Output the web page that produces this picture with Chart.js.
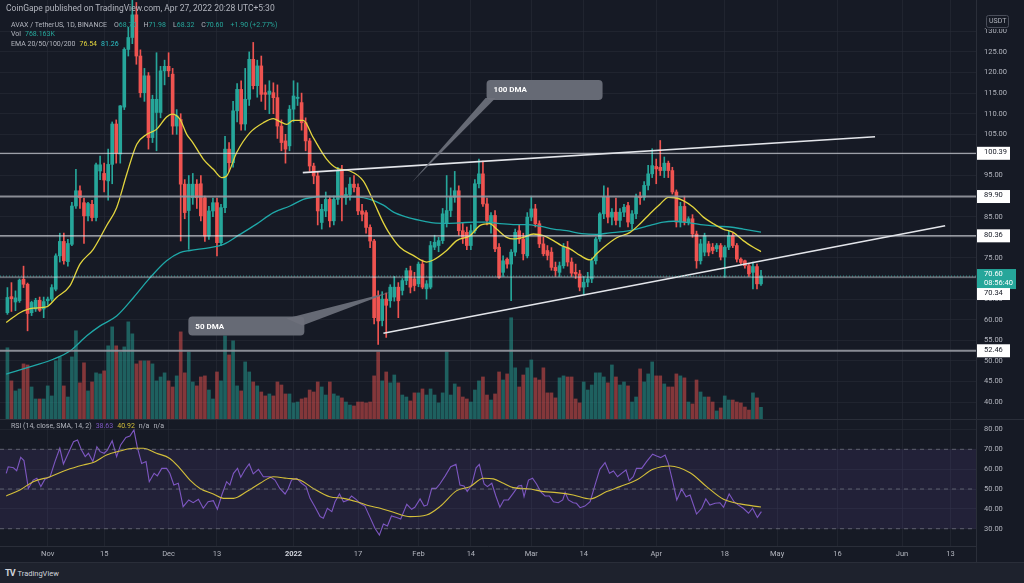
<!DOCTYPE html>
<html>
<head>
<meta charset="utf-8">
<script src="https://cdn.jsdelivr.net/npm/chart.js@4.4.0/dist/chart.umd.min.js"></script>
<style>
  html, body { margin: 0; padding: 0; background: #161a25; }
  #wrap { position: relative; width: 1024px; height: 583px; background: #161a25; overflow: hidden; font-family: Roboto, 'Liberation Sans', sans-serif; }
  canvas { position: absolute; left: 0; }
  #price { top: 0; }
  #rsi { top: 420px; }
  .txt { position: absolute; white-space: nowrap; color: #b2b5be; line-height: 10px; }
  .pub { left: 6px; top: 3px; font-size: 8.5px; }
  .leg { left: 11px; font-size: 7px; }
  .leg span { margin-left: 4px; }
  .leg.ohlc span { margin-left: 7px; }
  .up { color: #26a69a; }
  .sep { position: absolute; left: 0; width: 1024px; height: 1px; background: #2a2e39; }
  .vsep { position: absolute; left: 976px; width: 1px; background: #2a2e39; }
  #foot { position: absolute; left: 0; top: 563px; width: 1024px; height: 20px; background: #1e222d; }
  #foot .logo { position: absolute; left: 5px; top: 4px; color: #d1d4dc; font-size: 7.5px; line-height: 12px; }
  #foot .logo b { font-size: 9px; letter-spacing: -1px; margin-right: 3px; }
</style>
</head>
<body>
<div id="wrap">
  <canvas id="price" width="1024" height="419"></canvas>
  <div class="sep" style="top:419px"></div>
  <canvas id="rsi" width="1024" height="143"></canvas>
  <div class="sep" style="top:562px"></div>
  <div class="vsep" style="top:546px;height:17px"></div>

  <div class="txt pub">CoinGape published on TradingView.com, Apr 27, 2022 20:28 UTC+5:30</div>
  <div class="txt leg ohlc" style="top:20px">AVAX / TetherUS, 1D, BINANCE<span>O<i class="up" style="font-style:normal">68.70</i></span><span>H<i class="up" style="font-style:normal">71.98</i></span><span>L<i class="up" style="font-style:normal">68.32</i></span><span>C<i class="up" style="font-style:normal">70.60</i></span><span class="up">+1.90 (+2.77%)</span></div>
  <div class="txt leg" style="top:29px">Vol<span class="up">768.163K</span></div>
  <div class="txt leg" style="top:39px">EMA 20/50/100/200<span style="color:#e3d53e">76.54</span><span style="color:#2cc3c9">81.26</span></div>
  <div class="txt leg" style="top:421px">RSI (14, close, SMA, 14, 2)<span style="color:#7e57c2">38.63</span><span style="color:#d4bf3a">40.92</span><span>n/a</span><span>n/a</span></div>

  <div id="foot"><div class="logo"><b>TV</b>TradingView</div></div>
</div>

<script>
// AVAX / USDT daily, 2021-10-22 .. 2022-04-27
const FIRST_CANDLE = '2021-10-22'

const open = [
  61.7, 65.6, 64.3, 64.6, 69.8, 68.6, 61.7, 62.6, 64.7, 62.6,
  64.6, 65.0, 67.4, 75.5, 79.0, 74.1, 78.3, 87.6, 91.3, 88.4,
  85.2, 88.0, 84.8, 96.1, 95.5, 93.7, 97.7, 107.5, 100.2, 111.6,
  125.6, 128.5, 134.0, 124.0, 115.1, 119.2, 104.2, 110.3, 110.3, 120.4,
  121.5, 119.6, 107.0, 108.6, 92.9, 86.5, 89.6, 92.9, 93.0, 89.6,
  80.3, 86.4, 88.4, 78.7, 87.2, 101.4, 98.1, 110.7, 115.9, 107.5,
  113.5, 123.2, 116.8, 121.6, 115.1, 114.7, 115.1, 113.9, 107.0, 103.4,
  102.2, 111.1, 113.7, 112.7, 107.8, 103.4, 97.3, 94.9, 83.6, 86.4,
  89.2, 84.0, 89.2, 96.1, 89.6, 90.4, 92.9, 92.1, 86.4, 86.0,
  82.4, 79.1, 65.8, 59.8, 65.0, 64.6, 65.5, 67.9, 67.1, 69.5,
  71.9, 69.9, 68.7, 73.5, 67.5, 67.9, 77.6, 78.0, 79.2, 83.3,
  86.5, 89.7, 91.3, 81.6, 81.2, 78.0, 81.6, 93.0, 95.4, 88.1,
  83.3, 85.3, 77.6, 71.5, 74.7, 73.5, 76.4, 81.6, 79.6, 75.5,
  84.9, 86.9, 83.3, 78.4, 76.8, 76.4, 72.7, 71.5, 73.1, 77.6,
  74.0, 71.5, 71.1, 67.9, 69.1, 69.9, 74.3, 79.6, 85.7, 89.7,
  84.9, 86.1, 84.1, 86.1, 87.7, 83.3, 85.7, 89.9, 89.7, 92.6,
  95.4, 97.2, 97.0, 96.2, 98.0, 96.2, 91.0, 83.7, 87.5, 83.7,
  84.5, 80.8, 74.3, 76.4, 78.4, 77.6, 77.2, 78.0, 75.2, 77.6,
  80.4, 78.0, 74.7, 74.3, 73.1, 71.5, 72.9, 68.7
]
const high = [
  67.8, 69.0, 67.0, 69.9, 73.0, 68.9, 64.5, 65.2, 65.5, 65.5,
  65.5, 68.5, 76.0, 81.0, 81.0, 79.5, 88.5, 96.5, 92.5, 89.5,
  88.5, 89.0, 98.0, 99.7, 98.0, 101.4, 108.0, 108.5, 112.0, 126.0,
  131.0, 146.0, 137.0, 125.5, 121.0, 120.0, 114.5, 124.8, 121.5, 123.0,
  124.8, 121.0, 111.0, 110.0, 94.0, 95.0, 95.5, 94.0, 95.0, 90.0,
  87.5, 89.5, 89.5, 88.0, 104.5, 103.0, 113.0, 117.3, 118.0, 121.0,
  125.0, 127.3, 123.0, 124.0, 117.0, 118.0, 117.5, 117.0, 108.5, 105.0,
  112.0, 118.0, 117.5, 115.0, 109.0, 104.0, 98.0, 96.0, 88.0, 91.0,
  90.0, 90.0, 97.0, 97.5, 92.0, 94.5, 95.0, 93.0, 88.0, 86.5,
  83.0, 79.5, 67.0, 66.8, 66.5, 68.5, 70.5, 69.0, 70.0, 72.5,
  73.0, 71.5, 74.0, 74.5, 69.5, 79.0, 80.5, 80.0, 87.0, 95.0,
  92.0, 96.0, 92.5, 83.5, 82.5, 83.0, 94.0, 99.0, 98.5, 89.5,
  86.0, 86.5, 78.5, 75.5, 75.0, 77.0, 82.0, 83.0, 81.0, 86.0,
  90.0, 88.0, 84.0, 80.0, 78.0, 77.5, 74.0, 74.0, 78.5, 79.0,
  75.0, 73.5, 72.0, 70.5, 71.5, 75.0, 80.0, 86.0, 92.5, 92.0,
  87.0, 89.5, 87.0, 88.0, 88.5, 86.5, 90.5, 91.0, 93.5, 97.5,
  101.5, 99.0, 103.5, 99.5, 98.5, 97.0, 91.5, 88.5, 90.0, 85.0,
  85.5, 81.5, 79.5, 81.0, 79.0, 78.5, 78.5, 78.5, 78.0, 81.5,
  81.0, 78.5, 75.0, 74.5, 73.5, 74.0, 73.5, 71.98
]
const low = [
  61.3, 62.0, 62.2, 64.2, 67.8, 57.3, 61.0, 62.0, 62.0, 60.5,
  63.5, 64.5, 67.0, 74.0, 73.5, 73.0, 78.0, 87.0, 87.0, 78.5,
  84.0, 84.0, 84.0, 94.0, 91.0, 89.0, 93.0, 98.0, 98.0, 111.0,
  124.0, 127.0, 122.0, 114.0, 113.0, 101.4, 103.0, 101.0, 109.0, 117.0,
  119.0, 105.0, 105.0, 79.1, 84.5, 77.1, 88.0, 87.0, 84.0, 79.0,
  79.5, 85.0, 75.5, 78.0, 86.0, 96.0, 97.0, 108.0, 106.0, 106.0,
  112.0, 116.0, 114.0, 113.0, 111.0, 110.0, 110.0, 104.0, 101.0, 98.0,
  101.0, 108.0, 112.0, 106.0, 101.0, 96.0, 93.0, 83.0, 82.0, 85.0,
  82.5, 83.0, 88.0, 84.0, 88.0, 89.0, 91.0, 85.5, 84.0, 81.0,
  77.5, 59.0, 54.0, 58.5, 55.7, 63.0, 64.5, 60.5, 66.0, 68.5,
  66.5, 67.0, 68.0, 67.5, 65.0, 67.5, 77.0, 76.5, 78.5, 82.5,
  85.0, 88.5, 80.5, 78.5, 77.0, 77.0, 81.0, 92.0, 87.5, 83.0,
  81.0, 76.5, 70.0, 70.5, 72.5, 64.6, 75.5, 78.5, 74.5, 75.0,
  84.0, 82.5, 77.5, 75.5, 74.5, 72.0, 70.5, 70.5, 72.5, 73.0,
  70.5, 70.0, 67.0, 66.0, 68.0, 69.0, 73.5, 79.0, 84.5, 83.5,
  83.0, 83.0, 82.5, 85.0, 82.5, 82.0, 84.5, 88.0, 89.0, 91.5,
  94.5, 93.0, 95.0, 94.5, 94.5, 90.5, 82.5, 82.5, 83.0, 83.0,
  80.0, 72.5, 73.5, 75.5, 75.5, 76.0, 76.5, 74.5, 70.3, 77.0,
  77.5, 74.0, 73.5, 72.5, 70.5, 67.5, 67.5, 68.32
]
const close = [
  65.4, 65.1, 65.3, 69.6, 68.6, 61.5, 64.2, 64.7, 62.3, 64.4,
  65.0, 67.8, 75.5, 79.0, 74.3, 78.5, 87.6, 91.3, 89.6, 85.2,
  88.2, 84.8, 97.6, 97.6, 93.9, 97.7, 107.5, 100.4, 111.9, 125.6,
  128.5, 134.0, 124.0, 115.1, 119.2, 104.2, 113.5, 113.5, 120.4, 121.5,
  120.4, 107.0, 109.5, 92.9, 86.0, 92.9, 92.9, 89.6, 85.2, 80.3,
  86.4, 88.4, 78.7, 87.2, 101.4, 98.1, 110.7, 115.9, 107.5, 113.5,
  123.2, 116.8, 121.6, 114.7, 114.7, 115.5, 113.9, 107.0, 103.0, 101.4,
  111.1, 114.3, 114.0, 107.8, 103.4, 97.3, 94.9, 86.4, 86.8, 89.2,
  84.0, 89.2, 96.1, 89.6, 90.4, 92.9, 92.1, 86.4, 85.6, 82.4,
  79.1, 60.5, 59.7, 65.0, 63.5, 67.9, 67.9, 64.6, 69.5, 71.9,
  67.9, 68.3, 73.5, 67.9, 68.7, 78.0, 78.8, 79.2, 85.7, 86.5,
  89.7, 91.3, 81.6, 80.0, 78.0, 81.6, 93.0, 95.4, 88.1, 84.1,
  85.3, 77.2, 70.3, 74.3, 73.5, 76.4, 81.2, 79.6, 76.0, 84.9,
  86.9, 83.3, 78.4, 76.0, 75.6, 72.7, 71.9, 73.1, 77.6, 74.0,
  71.3, 71.1, 67.9, 69.1, 69.9, 74.3, 79.6, 85.7, 89.7, 84.9,
  86.1, 84.1, 86.1, 87.3, 83.7, 85.7, 89.7, 89.6, 92.6, 95.4,
  97.4, 96.6, 96.2, 98.0, 96.2, 91.0, 83.7, 87.5, 83.7, 84.5,
  80.8, 74.3, 78.4, 80.4, 76.4, 76.8, 78.0, 75.2, 77.6, 80.4,
  78.0, 74.7, 73.9, 73.1, 71.1, 72.9, 68.7, 70.6
]
// volume in thousands of AVAX
const volume = [
  4690, 2510, 1850, 1980, 3630, 3560, 2110, 1320, 1320, 1320,
  2180, 1520, 3830, 4090, 2180, 1450, 4090, 5810, 2380, 3700,
  1850, 2440, 3040, 2970, 3170, 4820, 6070, 4820, 4420, 4750,
  6400, 5610, 3630, 3830, 3830, 3830, 3630, 2510, 2770, 3040,
  2510, 2110, 2840, 5740, 3040, 4420, 2440, 2180, 2770, 2840,
  1910, 1320, 3100, 2510, 5480, 4220, 5150, 2180, 1850, 3760,
  3100, 2440, 2180, 1780, 1520, 1650, 1520, 2440, 2240, 1650,
  1650, 1060, 1120, 1320, 1390, 1910, 1780, 2440, 2110, 1580,
  2440, 1650, 1520, 1390, 1120, 920, 860, 1120, 1120, 1060,
  1120, 2840, 4420, 2510, 3100, 2380, 2900, 2380, 1580, 1450,
  1190, 1720, 1720, 1980, 1580, 1980, 1580, 1060, 1720, 4420,
  1580, 2310, 2110, 1450, 1320, 1120, 1910, 2510, 2770, 1580,
  1250, 1650, 3100, 2570, 2970, 6670, 3370, 2110, 2900, 3370,
  3890, 2710, 2570, 3370, 1720, 1720, 1390, 2710, 2840, 2770,
  2770, 1320, 1060, 2440, 1910, 2240, 3040, 3040, 2770, 2380,
  3560, 2770, 2240, 2440, 2180, 1120, 1450, 3300, 2440, 2970,
  3760, 2840, 2840, 2310, 2110, 2110, 2970, 2840, 2710, 1120,
  990, 2570, 1780, 1450, 1450, 1120, 530, 730, 1520, 1250,
  1250, 1120, 1060, 790, 590, 1720, 1390, 768
]

// indicator lines (x = days since 2021-11-01)
const ema20Days = [-10.3, -6.9, -3.6, -0.3, 2.2, 5.5, 8, 11.3, 14.6, 17.1, 19.6, 22.1, 24.6, 27, 29.5, 30.8, 32.8, 34.5, 36, 38.6, 41.1, 43.2, 44.4, 46.9, 50.2, 53.5, 56, 57.6, 59.3, 60.9, 63.4, 65.9, 69.2, 71.7, 75, 78.3, 80.8, 83.3, 84.5, 87.4, 90.7, 94, 95.7, 99, 101.5, 104.8, 107.3, 109.7, 111.4, 113.9, 115.5, 118, 120.5, 123, 125.5, 127.5, 129.6, 132.1, 134.6, 136.2, 138, 141.2, 144.5, 147, 149.5, 152, 154, 155.7, 157.7, 160.2, 162.7, 165.2, 167.6, 170.1, 172.6, 175.1, 177]
const ema20 = [59.3, 61.7, 62.8, 63.1, 65.4, 68.2, 73.5, 77.1, 82.8, 87.2, 95.3, 102.6, 105, 106.2, 109.2, 109.9, 108.7, 105, 103, 99, 96.5, 94.5, 94.9, 100.6, 105.4, 107.8, 108.8, 108.1, 107.4, 108.4, 108.4, 104.2, 99, 96.8, 96.1, 93.7, 88.8, 83.5, 81.4, 77.6, 75.6, 74, 74.5, 76.8, 79.2, 80.4, 82.9, 83.3, 82, 80, 79.6, 80, 80.8, 80.4, 79.2, 78, 77.2, 75.6, 74.5, 76, 77.6, 79.9, 81.2, 83.3, 85.8, 88.1, 89.7, 89.6, 88.9, 87.3, 84.9, 83.3, 82, 81.2, 79.2, 77.6, 76.54]
const ema50Days = [-10.3, -3.6, 1.4, 5.5, 9.7, 13, 17.1, 21.3, 25.4, 29.5, 32.8, 35.3, 40.3, 43.6, 47.7, 51.8, 56, 60.1, 63.4, 65.1, 68.4, 72.5, 76.7, 80, 83.3, 85.8, 89.1, 92.4, 95.7, 99, 102.3, 105.6, 108.9, 112.2, 115.5, 118.8, 122.1, 125.5, 128.8, 132.5, 136.2, 139.5, 142.8, 146.1, 149.5, 152.8, 155.3, 159.4, 162.7, 166, 169.3, 172.6, 177]
const ema50 = [46.8, 48.8, 50.4, 52.4, 56.1, 58.5, 60.9, 65.4, 70.2, 74.3, 76.3, 76.8, 77.5, 78.3, 80.7, 83.2, 86, 87.6, 89.2, 89.6, 89.9, 89.9, 89.8, 89.2, 87.8, 86.1, 84.9, 84.1, 83.5, 83.4, 83.5, 83.7, 83.7, 83.3, 83.1, 83.1, 82.7, 82, 81.6, 80.9, 80.7, 81.1, 81.4, 82, 82.9, 83.7, 83.9, 83.5, 83, 82.7, 82.5, 82, 81.26]

const rsiDays = [-10.3, -9.8, -8.5, -7.7, -6.7, -5.9, -4.8, -3.6, -2.7, -1.7, -0.7, 0.6, 1.8, 3.0, 3.9, 5.1, 6.4, 7.4, 8.4, 9.3, 10.1, 11.2, 12.2, 13, 14, 14.8, 16, 17.1, 18.1, 19.4, 20.4, 21.4, 22.2, 23.3, 24.4, 25.2, 26.4, 27.2, 28.3, 29.5, 30.3, 31.3, 32.4, 33.6, 35, 36.1, 37.4, 38.6, 39.8, 41.1, 42.1, 43.2, 44.4, 45.2, 46.1, 47.1, 47.9, 48.9, 50, 51, 52.3, 53.5, 55.2, 56.4, 57.6, 58.9, 59.7, 60.5, 61.8, 63, 64.1, 65.1, 66.3, 67.6, 68.4, 69.4, 70.5, 71.3, 72.4, 73.4, 74.6, 75.4, 76.5, 77.5, 78.7, 79.9, 81.2, 82.3,
  83.3, 84.3, 85.3, 86.6, 87.6, 89.1, 90.3, 91.1, 92.4, 93.4, 94.2, 95.3, 96.4, 97.3, 98.6, 100, 101.3, 102.3, 103.3, 104.1, 105.2, 106.3, 107.1, 108.3, 109.1, 110.2, 111.2, 112.2, 113.2, 114.3, 115.5, 116.8, 117.6, 118.2, 119.3, 120.3, 121.3, 122.3, 123.4, 124.5, 125.5, 126.7, 127.8, 128.4, 129.2, 130.4, 131.2, 132.1, 133.3, 134.6, 135.8, 137, 138.3, 139.4, 140.4, 141.4, 142.4, 143.5, 144.3, 145.3, 146.1, 147.4, 148.6, 150.1, 151.1, 152.1, 153.2, 154, 155.1, 156.1, 157.3, 158.4, 159.4, 161, 162.3, 163.3, 164.3, 165.6, 166.8, 167.7, 169.1, 170.3, 171.4, 172.6, 173.9, 174.9, 176.1, 177.1]
const rsi = [57.9, 61.2, 60.7, 59.2, 66, 64.3, 50.3, 54.5, 55.4, 51.2, 54.9, 56.2, 63.8, 70.5, 62.6, 68, 73.8, 74.7, 69.6, 66.3, 68, 63.8, 71.3, 68.8, 68, 69.6, 74.3, 66.3, 72.2, 76, 76.7, 79.7, 71.3, 62.9, 63.8, 53.7, 57.9, 56.6, 60.4, 60.4, 57.9, 52, 52.9, 41.1, 44.5, 43.1, 44.8, 40.3, 43.6, 44.1, 39.8, 47, 53.7, 52, 57.9, 60.4, 55.9, 59.6, 62.6, 57.6, 59.9, 56.2, 56.2, 54.5, 50.3, 47.5, 50.3, 54.5, 55.4, 52.9, 51.2, 45.3, 41.1, 36.1, 35.3, 40.3, 38.6, 43.6, 47.5, 43.6, 44.5, 46.5, 44.8, 42.8, 41.4, 36.1, 30.2, 26.8,
  32.4, 31.4, 36.4, 35.7, 34.9, 42.3, 39.8, 40.8, 45, 41.4, 42, 50.3, 50.3, 52.5, 56.5, 61.2, 62.4, 52, 51.5, 48.7, 52, 60.7, 62.4, 52.5, 51.2, 52.9, 46.5, 40.8, 44.5, 44.5, 47.8, 51.5, 51.8, 46.1, 54.5, 55.4, 52.5, 48.7, 46.5, 46.5, 43.6, 43.1, 44.5, 48.2, 44.5, 43.1, 42.8, 40.6, 41.4, 43.6, 52, 59.9, 63.3, 57.9, 59.1, 56.2, 57.9, 59.6, 54.2, 56.2, 60.4, 60.4, 63.8, 67.5, 66.6, 65.8, 67.1, 62.9, 53.7, 44.5, 50, 46.1, 47, 37.4, 40.3, 45, 41.9, 42.8, 43.1, 40.8, 47.5, 43.6, 41.9, 40.3, 37.8, 40.3, 35.7, 38.63]
const rsiMaDays = [-10.3, -6.9, -3.6, 0.6, 4.7, 8.8, 11.3, 14.6, 17.9, 21.3, 23.7, 27, 30.3, 32.8, 35.3, 37.8, 41.1, 43.6, 46.1, 49.4, 52.7, 56, 59.3, 62.6, 65.9, 70, 73.4, 76.7, 80, 82.5, 85.8, 89.9, 94, 97.3, 101.5, 104.8, 108.1, 110.6, 113.1, 115.5, 119.7, 123, 126.3, 130.4, 134.6, 138.7, 142, 146.1, 150.2, 154.4, 159.4, 163.5, 167.7, 171.8, 177]
const rsiMa = [46.5, 49.5, 53.7, 56.2, 59.6, 62.1, 63.3, 67.1, 69.1, 70.5, 70.5, 68, 65.4, 60.4, 54.5, 50.3, 47.5, 45.3, 45.3, 48.7, 52.9, 56.2, 55.4, 54.5, 50.3, 46.1, 45.3, 43.6, 41.4, 40.3, 38.3, 36.1, 36.9, 41.1, 49.2, 51.2, 55.4, 55.1, 52.9, 50.7, 50, 48.7, 48.2, 47, 45, 48.7, 51.2, 54.5, 59.9, 61.6, 58.2, 51.2, 44.8, 42.5, 40.92]

// drawings
const levels = [100.39, 89.90, 80.36, 70.34, 52.46]
const lastPrice = 70.60
const countdown = '08:56:40'
const upperTrend = [[63.3, 95.7], [205.3, 104.4]]
const lowerTrend = [[83.3, 56.7], [222.7, 82.8]]
const callouts = [
  { text: '100 DMA', box: [108.9, 118.2], tip: [90.3, 93.3] },
  { text: '50 DMA', box: [34.9, 60.75], tip: [85.3, 66.8] },
]

// axes
const priceTicks = [40, 45, 50, 55, 60, 65, 70, 75, 80, 85, 90, 95, 100, 105, 110, 115, 120, 125, 130]
const rsiTicks = [30, 40, 50, 60, 70, 80]
const rsiBands = [70, 50, 30]
const dateTicks = ['2021-11-01', '2021-11-15', '2021-12-01', '2021-12-13', '2022-01-01', '2022-01-17', '2022-02-01', '2022-02-14', '2022-03-01', '2022-03-14', '2022-04-01', '2022-04-18', '2022-05-01', '2022-05-16', '2022-06-01', '2022-06-13']
const dateLabels = ['Nov', '15', 'Dec', '13', '2022', '17', 'Feb', '14', 'Mar', '14', 'Apr', '18', 'May', '16', 'Jun', '13']

const BG = '#161a25'
const GRID = 'rgba(42,46,57,0.5)'
const BORDER = '#2a2e39'
const TEXT = '#b2b5be'
const UP = '#26a69a'
const DOWN = '#ef5350'
const FONT = 'Roboto, "Liberation Sans", sans-serif'
const X_MIN = -11.84
const X_MAX = 230.35

function dayNum(s) {
  const [y, m, d] = s.split('-').map(Number)
  return (Date.UTC(y, m - 1, d) - Date.UTC(2021, 10, 1)) / 86400000
}

const first = dayNum(FIRST_CANDLE)
const isUp = close.map((c, i) => c >= open[i])
const candleColors = isUp.map((u) => (u ? UP : DOWN))
const volumeColors = isUp.map((u) => (u ? 'rgba(38,166,154,0.5)' : 'rgba(239,83,80,0.5)'))
const tickDays = dateTicks.map(dayNum)

const points = (xs, ys) => xs.map((x, i) => ({ x, y: ys[i] }))
const hline = (v) => [{ x: X_MIN, y: v }, { x: X_MAX, y: v }]

const levelStyles = [
  { color: 'rgba(222,224,230,0.85)', width: 1 },
  { color: 'rgba(150,153,162,0.9)', width: 2 },
  { color: 'rgba(222,224,230,0.85)', width: 1.2 },
  { color: 'rgba(222,224,230,0.7)', width: 1 },
  { color: 'rgba(150,153,162,0.9)', width: 2 },
]

// chart.js reserves room for half a tick label at each end; the panes here run edge to edge
const noPad = (s) => { s.paddingTop = 0; s.paddingBottom = 0; s.paddingLeft = 0; s.paddingRight = 0 }

const priceExtras = {
  id: 'priceExtras',
  afterDatasetsDraw(chart) {
    const { ctx, scales: { x, y } } = chart
    ctx.save()
    callouts.forEach((c, k) => {
      const bx = x.getPixelForValue(c.box[0])
      const by = y.getPixelForValue(c.box[1])
      const tx = x.getPixelForValue(c.tip[0])
      const ty = y.getPixelForValue(c.tip[1])
      const w = 116
      const h = k === 0 ? 20 : 19
      ctx.fillStyle = 'rgba(110,113,124,0.92)'
      ctx.beginPath()
      if (k === 0) {
        ctx.moveTo(bx - 1, by + h - 2)
        ctx.lineTo(tx, ty)
        ctx.lineTo(bx + 9, by + h - 2)
      } else {
        ctx.moveTo(bx + w - 18, by + 2)
        ctx.lineTo(tx, ty)
        ctx.lineTo(bx + w - 2, by + 9)
      }
      ctx.closePath()
      ctx.fill()
      ctx.beginPath()
      ctx.roundRect(bx, by, w, h, 4)
      ctx.fill()
      ctx.fillStyle = '#ffffff'
      ctx.font = `bold 8px ${FONT}`
      ctx.textBaseline = 'middle'
      ctx.fillText(c.text, bx + 7, by + h / 2 + 0.5)
    })
    ctx.restore()
  },
  afterDraw(chart) {
    const { ctx, scales: { y } } = chart
    const ax = y.left + 1
    ctx.save()
    ctx.font = `7.5px ${FONT}`
    ctx.textBaseline = 'middle'

    const tag = (top, h, fill, color, lines, w) => {
      ctx.fillStyle = fill
      ctx.fillRect(ax, top, w, h)
      ctx.fillStyle = color
      lines.forEach((t, i) => ctx.fillText(t, ax + 7, top + 5.5 + i * 9))
    }

    levels.forEach((v) => {
      if (v === 70.34) return
      const py = y.getPixelForValue(v)
      tag(py - 6.5, 13, '#ffffff', '#131722', [v.toFixed(2)], 33)
    })
    // last price + countdown, author's 70.34 level pushed under it
    const lp = y.getPixelForValue(lastPrice)
    tag(lp - 7, 20, UP, '#ffffff', [lastPrice.toFixed(2), countdown], 39)
    tag(lp + 12, 12, '#ffffff', '#131722', ['70.34'], 33)

    // currency badge
    ctx.fillStyle = BG
    ctx.fillRect(986, 15, 23, 14)
    ctx.strokeStyle = '#4a4e5a'
    ctx.lineWidth = 1
    ctx.beginPath()
    ctx.roundRect(986.5, 15.5, 22, 12, 2)
    ctx.stroke()
    ctx.fillStyle = TEXT
    ctx.font = `7px ${FONT}`
    ctx.fillText('USDT', 989, 21.7)
    ctx.restore()
  },
}

const rsiBand = {
  id: 'rsiBand',
  beforeDatasetsDraw(chart) {
    const { ctx, chartArea, scales: { y } } = chart
    const top = y.getPixelForValue(70)
    const bottom = y.getPixelForValue(30)
    ctx.save()
    ctx.fillStyle = 'rgba(126,87,194,0.12)'
    ctx.fillRect(chartArea.left, top, chartArea.right - chartArea.left, bottom - top)
    ctx.restore()
  },
}

const xBase = {
  type: 'linear',
  min: X_MIN,
  max: X_MAX,
  offset: false,
  afterBuildTicks: (s) => { s.ticks = tickDays.map((v) => ({ value: v })) },
  grid: { color: GRID, drawTicks: false, offset: false },
}

const yBase = (ticks) => ({
  type: 'linear',
  position: 'right',
  afterBuildTicks: (s) => { s.ticks = ticks.map((v) => ({ value: v })) },
  afterFit: (s) => { s.width = 48; noPad(s) },
  grid: { color: GRID, drawTicks: false },
  border: { color: BORDER },
  ticks: { color: TEXT, padding: 8, font: { size: 7.5, family: FONT }, callback: (v) => Number(v).toFixed(2) },
})

const baseOptions = {
  responsive: false,
  animation: false,
  events: [],
  layout: { padding: 0, autoPadding: false },
  plugins: { legend: { display: false }, tooltip: { enabled: false } },
}

new Chart(document.getElementById('price'), {
  type: 'bar',
  data: {
    datasets: [
      ...levels.map((v, i) => ({
        type: 'line', data: hline(v), borderColor: levelStyles[i].color,
        borderWidth: levelStyles[i].width, pointRadius: 0, order: -1,
      })),
      { type: 'line', data: hline(lastPrice), borderColor: 'rgba(38,166,154,0.8)', borderDash: [1, 2], borderWidth: 1, pointRadius: 0, order: -1 },
      ...[upperTrend, lowerTrend].map((t) => ({
        type: 'line', data: t.map(([x, y]) => ({ x, y })), borderColor: '#e3e5ea',
        borderWidth: 1.6, pointRadius: 0, order: -1,
      })),
      {
        type: 'line', data: points(ema20Days, ema20), borderColor: '#e3d53e',
        borderWidth: 1.3, pointRadius: 0, cubicInterpolationMode: 'monotone', order: 0,
      },
      {
        type: 'line', data: points(ema50Days, ema50), borderColor: '#1fa8a8',
        borderWidth: 1.3, pointRadius: 0, cubicInterpolationMode: 'monotone', order: 0,
      },
      {
        data: close.map((c, i) => ({ x: first + i, y: [open[i], c] })),
        backgroundColor: candleColors, barThickness: 3, minBarLength: 1, grouped: false, order: 1,
      },
      {
        data: close.map((c, i) => ({ x: first + i, y: [low[i], high[i]] })),
        backgroundColor: candleColors, barThickness: 1, grouped: false, order: 2,
      },
      {
        data: volume.map((v, i) => ({ x: first + i, y: v })),
        backgroundColor: volumeColors, barThickness: 3, grouped: false, yAxisID: 'yVol', order: 5,
      },
    ],
  },
  options: {
    ...baseOptions,
    scales: {
      x: { ...xBase, afterFit: (s) => { s.height = 0; noPad(s) }, ticks: { display: false }, border: { display: false } },
      y: { ...yBase(priceTicks), min: 35.9, max: 137.6 },
      yVol: { type: 'linear', display: false, min: 0, max: 27600 },
    },
  },
  plugins: [priceExtras],
})

new Chart(document.getElementById('rsi'), {
  type: 'line',
  data: {
    datasets: [
      ...rsiBands.map((v) => ({
        data: hline(v), borderColor: 'rgba(120,123,134,0.7)', borderDash: [4, 4],
        borderWidth: 1, pointRadius: 0,
      })),
      { data: points(rsiMaDays, rsiMa), borderColor: '#d4bf3a', borderWidth: 1.1, pointRadius: 0, cubicInterpolationMode: 'monotone' },
      { data: points(rsiDays, rsi), borderColor: '#7e57c2', borderWidth: 1.1, pointRadius: 0, tension: 0 },
    ],
  },
  options: {
    ...baseOptions,
    scales: {
      x: {
        ...xBase,
        afterFit: (s) => { s.height = 17; noPad(s) },
        border: { color: BORDER },
        ticks: {
          autoSkip: false,
          maxRotation: 0,
          padding: 4,
          callback: (v, i) => dateLabels[i],
          color: (c) => (c.tick && c.tick.label === '2022' ? '#d1d4dc' : TEXT),
          font: (c) => ({ size: 7.5, family: FONT, weight: c.tick && c.tick.label === '2022' ? 'bold' : 'normal' }),
        },
      },
      y: { ...yBase(rsiTicks), min: 21.3, max: 84.75 },
    },
  },
  plugins: [rsiBand],
})
</script>
</body>
</html>
